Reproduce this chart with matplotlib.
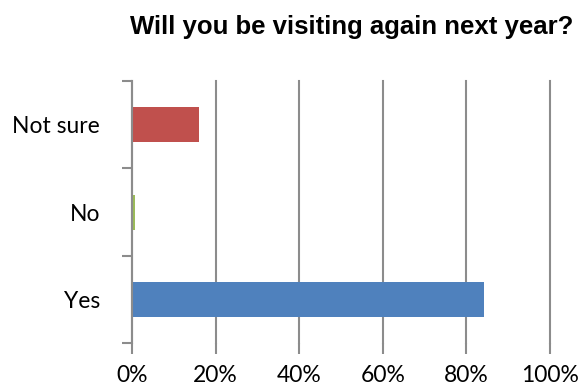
import matplotlib
matplotlib.use('Agg')
from matplotlib import pyplot as plt
from matplotlib.ticker import PercentFormatter

categories = ['Yes', 'No', 'Not sure']
shares = [84.2, 0.6, 16.0]
bar_colors = ['#4F81BD', '#9BBB59', '#C0504D']
x_ticks = [0, 20, 40, 60, 80, 100]

GRID = '#8C8C8C'

fig = plt.figure(figsize=(5.82, 3.88), dpi=100)
ax = fig.add_axes([0.2268, 0.116, 0.7182, 0.675])

ax.barh(range(len(categories)), shares, height=0.4, color=bar_colors, zorder=3)

ax.set_xlim(0, 100)
ax.set_ylim(-0.5, len(categories) - 0.5)
ax.set_xticks(x_ticks)
ax.xaxis.set_major_formatter(PercentFormatter(decimals=0))
# category labels in the middle, tick marks between categories
ax.set_yticks([i - 0.5 for i in range(len(categories) + 1)])
ax.set_yticklabels([])
ax.set_yticks(range(len(categories)), minor=True)
ax.set_yticklabels(categories, minor=True)
ax.tick_params(axis='y', which='minor', length=0, pad=23)
ax.tick_params(axis='y', which='major', length=7, color=GRID, width=1.5)
ax.tick_params(axis='x', length=8, color=GRID, width=1.5, pad=8)
for lbl in ax.get_xticklabels() + ax.get_yticklabels(minor=True):
    lbl.set_family('Lato')
    lbl.set_fontsize(16.5)

ax.grid(axis='x', color=GRID, linewidth=1.5, zorder=0)
for gl in ax.get_xgridlines():
    gl.set_clip_on(False)
for side in ['top', 'right', 'bottom']:
    ax.spines[side].set_visible(False)
ax.spines['left'].set_color(GRID)
ax.spines['left'].set_linewidth(1.5)
ax.spines['left'].set_zorder(4)

fig.text(0.605, 0.93, 'Will you be visiting again next year?', ha='center', va='center',
         family='Liberation Sans', fontweight='bold', fontsize=18.5)

fig.savefig('out.png', dpi=100)
